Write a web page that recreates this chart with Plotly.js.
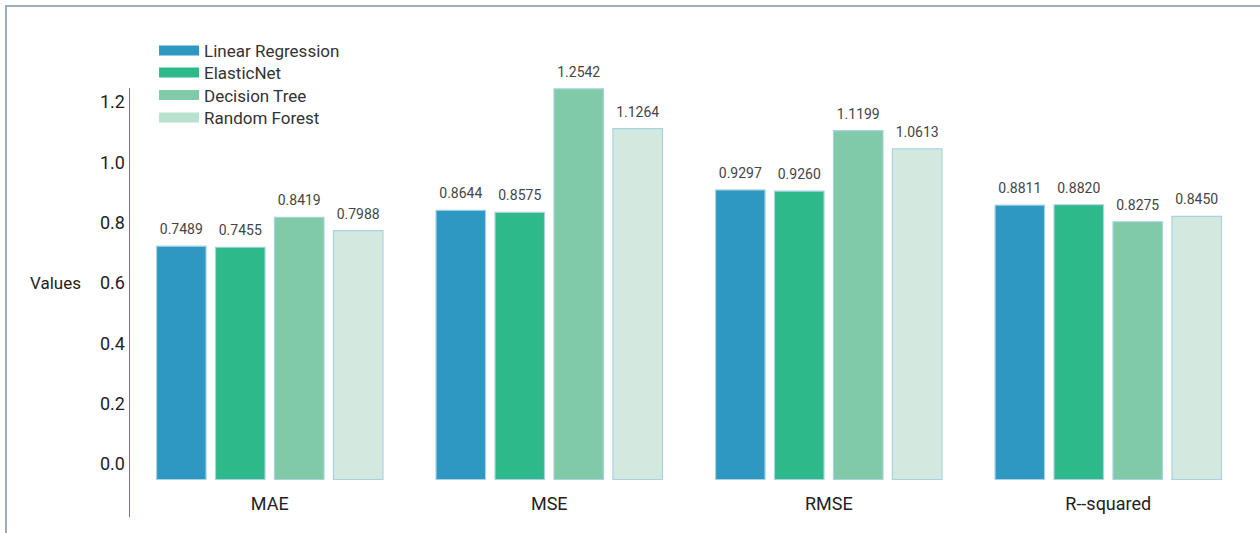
<!DOCTYPE html>
<html><head><meta charset="utf-8">
<script src="https://cdn.plot.ly/plotly-3.0.1.min.js"></script>
<style>
html,body{margin:0;padding:0;background:#fff;}
#chart{position:absolute;left:0;top:0;width:1260px;height:533px;}
#frame{position:absolute;left:5px;top:5px;width:1300px;height:600px;border-top:2px solid #9dadbd;border-left:2px solid #9dadbd;pointer-events:none;}
</style></head><body>
<div id="chart"></div>
<div id="frame"></div>
<script>
const metrics = ['MAE', 'MSE', 'RMSE', 'R--squared'];
const models = ['Linear Regression', 'ElasticNet', 'Decision Tree', 'Random Forest'];
const linearRegression = [0.7489, 0.8644, 0.9297, 0.8811];
const elasticNet = [0.7455, 0.8575, 0.9260, 0.8820];
const decisionTree = [0.8419, 1.2542, 1.1199, 0.8275];
const randomForest = [0.7988, 1.1264, 1.0613, 0.8450];
const tickValues = [0, 0.2, 0.4, 0.6, 0.8, 1.0, 1.2];
const tickLabels = ['0.0', '0.2', '0.4', '0.6', '0.8', '1.0', '1.2'];

const seriesValues = [linearRegression, elasticNet, decisionTree, randomForest];
const barColors = ['#2f98c2', '#2eb98a', '#80caa8', '#d3e9e0'];
const legendColors = ['#2f98c2', '#2eb98a', '#80caa8', '#b8e2cf'];
const legendIds = ['legend', 'legend2', 'legend3', 'legend4'];
const legendY = [1.0862, 1.0350, 0.9825, 0.9301];
const FONT = 'Roboto, "Noto Sans", Arial, sans-serif';

const traces = [];
seriesValues.forEach((vals, i) => {
  traces.push({
    type: 'bar', x: metrics, y: vals, yaxis: 'y2', name: models[i],
    offsetgroup: String(i), showlegend: false, hoverinfo: 'skip',
    marker: {color: barColors[i], line: {color: '#a9d3e2', width: 1.2}}
  });
});
seriesValues.forEach((vals, i) => {
  traces.push({
    type: 'scatter', mode: 'markers+text', x: metrics, y: vals, yaxis: 'y2',
    offsetgroup: String(i), showlegend: false, hoverinfo: 'skip', cliponaxis: false,
    marker: {size: 12, opacity: 0, color: barColors[i]},
    text: vals.map(v => v.toFixed(4)), textposition: 'top center',
    textfont: {family: FONT, size: 14, color: '#454545'}
  });
});
models.forEach((m, i) => {
  traces.push({
    type: 'scatter', mode: 'lines', x: [null], y: [null], name: m, legend: legendIds[i],
    line: {color: legendColors[i], width: 11}, hoverinfo: 'skip'
  });
});

const layout = {
  width: 1260, height: 533,
  margin: {l: 130, r: 12, t: 88, b: 16},
  paper_bgcolor: 'rgba(0,0,0,0)', plot_bgcolor: 'rgba(0,0,0,0)',
  font: {family: FONT, color: '#222'},
  barmode: 'group', bargap: 0.156, bargroupgap: 0.16,
  scattermode: 'group', scattergap: 0.156,
  showlegend: true,
  xaxis: {type: 'category', showline: false, showgrid: false, zeroline: false, ticks: '',
    ticklabelposition: 'inside', tickfont: {family: FONT, size: 18, color: '#222'}},
  yaxis: {range: [-0.1757, 1.2463], tickvals: tickValues, ticktext: tickLabels,
    showline: true, linecolor: '#4a7fc8', linewidth: 1.5, showgrid: false, zeroline: false,
    ticks: '', tickfont: {family: FONT, size: 18, color: '#222'}},
  yaxis2: {overlaying: 'y', range: [-0.1204, 1.2568], visible: false, showgrid: false, zeroline: false},
  annotations: [{text: 'Values', xref: 'paper', yref: 'y', x: -0.042, y: 0.6,
    xanchor: 'right', yanchor: 'middle', showarrow: false,
    font: {family: FONT, size: 17, color: '#222'}}]
};
legendIds.forEach((id, i) => {
  layout[id] = {x: 0.0215, y: legendY[i], xanchor: 'left', yanchor: 'middle',
    font: {family: FONT, size: 17, color: '#333'}, bgcolor: 'rgba(0,0,0,0)', itemwidth: 40};
});

Plotly.newPlot('chart', traces, layout, {displayModeBar: false, staticPlot: true});
</script>
</body></html>
